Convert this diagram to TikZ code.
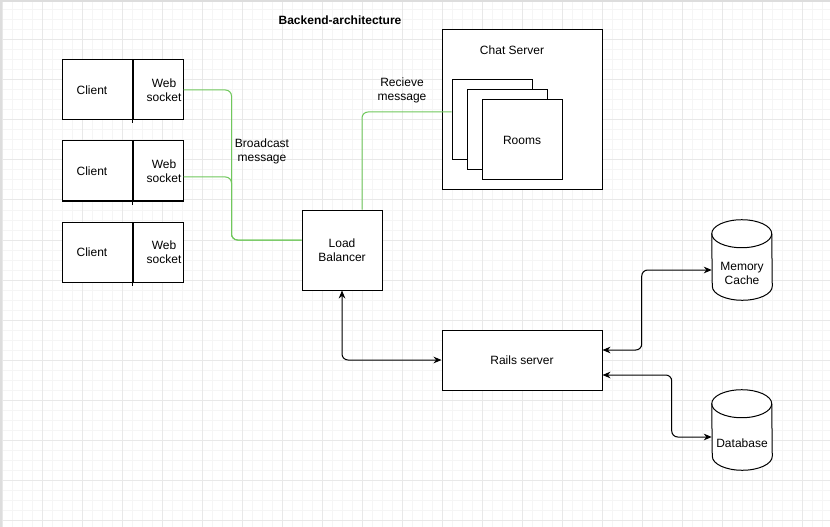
\documentclass[tikz,border=0pt]{standalone}
\usepackage{fontspec}
\setmainfont{Liberation Sans}
\usetikzlibrary{positioning, arrows.meta, calc}

\definecolor{gridmajor}{HTML}{E8E8E8}
\definecolor{gridminor}{HTML}{F5F5F5}
\definecolor{edgegray}{HTML}{DDDDDD}
\definecolor{msggreen}{HTML}{70C85C}

% outline of a storage drum around a (blank) node
\newcommand\drumoutline[1]{%
  \draw[line width=0.75pt, fill=white] ($(#1.north west)+(0,14)$)
    arc[start angle=180, end angle=0, x radius=22.5pt, y radius=10.5pt]
    -- ($(#1.south east)+(0,-14)$)
    arc[start angle=0, end angle=-180, x radius=22.5pt, y radius=10.5pt] -- cycle;
  \draw[line width=0.75pt] ($(#1.north west)+(0,14)$)
    arc[start angle=180, end angle=360, x radius=22.5pt, y radius=10.5pt];}

\begin{document}
\begin{tikzpicture}[
    x=0.75pt, y=-0.75pt,
    txt/.style={font=\fontsize{9pt}{10.5pt}\selectfont, align=center, inner sep=0pt},
    box/.style={rectangle, draw=black, line width=0.75pt, fill=white, txt},
    cell/.style={box, minimum height=45pt},
    drum/.style={rectangle, draw=none, minimum width=45pt, minimum height=60pt, inner sep=0pt},
    bcast/.style={draw=msggreen, line width=0.75pt, rounded corners=4.5pt},
    link/.style={<->, >={Stealth[length=6pt, width=5pt]}, line width=0.75pt, rounded corners=4.5pt}
]
% Canvas
\useasboundingbox (0,0) rectangle (830,527);
\fill[white] (0,0) rectangle (830,527);
\foreach \x in {2,12,...,822} \draw[gridminor, line width=0.75pt] (\x,0) -- (\x,527);
\foreach \y in {0,10,...,520} \draw[gridminor, line width=0.75pt] (0,\y) -- (830,\y);
\foreach \x in {2,42,...,802} \draw[gridmajor, line width=0.75pt] (\x,0) -- (\x,527);
\foreach \y in {0,40,...,520} \draw[gridmajor, line width=0.75pt] (0,\y) -- (830,\y);
\fill[edgegray] (0,0) rectangle (830,2);
\fill[edgegray] (0,0) rectangle (2,527);

% Title
\node[txt, font=\bfseries\fontsize{9pt}{10.5pt}\selectfont] (title) at (340,20) {Backend-architecture};

% Clients
\node[cell, minimum width=52.5pt, label={[txt, xshift=-3.75pt]center:Client}] (c1) at (97,90) {};
\node[cell, minimum width=37.5pt, right=0pt of c1, label={[txt, xshift=4.5pt]center:Web\\socket}] (w1) {};
\node[cell, minimum width=52.5pt, below=15pt of c1, label={[txt, xshift=-3.75pt]center:Client}] (c2) {};
\node[cell, minimum width=37.5pt, right=0pt of c2, label={[txt, xshift=4.5pt]center:Web\\socket}] (w2) {};
\node[cell, minimum width=52.5pt, below=15pt of c2, label={[txt, xshift=-3.75pt]center:Client}] (c3) {};
\node[cell, minimum width=37.5pt, right=0pt of c3, label={[txt, xshift=4.5pt]center:Web\\socket}] (w3) {};
\foreach \c in {c1,c2,c3} \draw[line width=0.75pt] (\c.south east) -- ++(0,3);

% Load balancer
\node[box, minimum width=60pt, minimum height=60pt] (lb) at (342,250) {Load\\Balancer};

% Chat server with rooms
\node[box, minimum width=120pt, minimum height=120pt] (chat) at (522,110) {};
\node[txt] (chatlbl) at ($(chat.north)+(-10,21)$) {Chat Server};
\node[box, minimum width=60pt, minimum height=60pt] (r1) at (492,120) {};
\node[box, minimum width=60pt, minimum height=60pt] (r2) at ($(r1)+(15,10)$) {};
\node[box, minimum width=60pt, minimum height=60pt] (r3) at ($(r1)+(30,20)$) {Rooms};

% Rails server
\node[box, minimum width=120pt, minimum height=45pt] (rails) at (522,360) {Rails server};

% Stores
\node[drum] (mem) at (742,260) {};
\drumoutline{mem}
\node[txt] (memlbl) at ($(mem)+(0,13)$) {Memory\\Cache};
\node[drum] (db) at (742,430) {};
\drumoutline{db}
\node[txt] (dblbl) at ($(db)+(0,13)$) {Database};

% Messages
\draw[bcast] (w1.east) -| ($(lb.west)+(-70,-10)$) -- ($(lb.west)+(0,-10)$);
\draw[bcast] ($(w2.east)+(0,6)$) -| ($(lb.west)+(-70,-10)$) -- ($(lb.west)+(0,-10)$);
\node[txt] (bclbl) at (262,151) {Broadcast\\message};
\draw[bcast] ($(lb.north)+(20,0)$) |- ($(r1.west)+(0,-8)$);
\node[txt] (rclbl) at (402,90.5) {Recieve\\message};

% Calls
\draw[link] (lb.south) |- (rails.west);
\draw[link] ($(rails.east)+(0,-10)$) -| ($(mem.west)+(-70,10)$) -- ($(mem.west)+(0,10)$);
\draw[link] ($(rails.east)+(0,15)$) -| ($(db.west)+(-40,7)$) -- ($(db.west)+(0,7)$);

\end{tikzpicture}
\end{document}
